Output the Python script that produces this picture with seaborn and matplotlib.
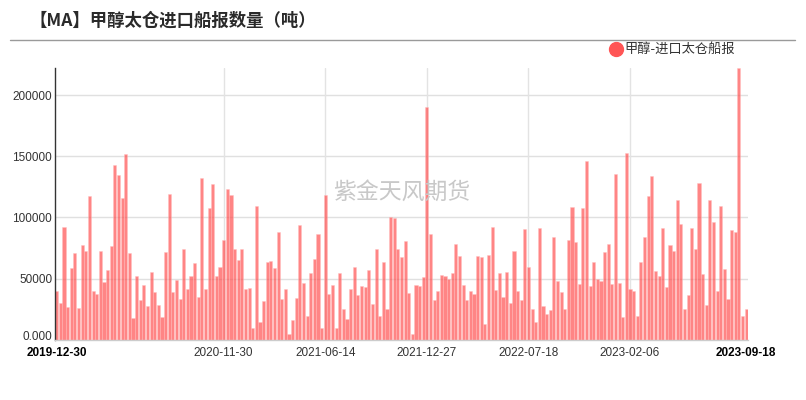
import numpy as np
import pandas as pd
from matplotlib import pyplot as plt
from matplotlib.lines import Line2D
import seaborn as sns

# weekly ship-report volume (tons)
ship_tons = [
    40000, 29700, 91800, 26700, 58600, 71100, 25600, 77700, 72200, 117200,
    39800, 37600, 72800, 46900, 56700, 76800, 143300, 134900, 115800, 152300,
    71100, 17700, 52300, 32700, 45000, 27500, 55000, 38700, 28600, 18500,
    71900, 119400, 38700, 48500, 33500, 74400, 41400, 52300, 62400, 34600,
    132400, 41400, 107900, 127500, 52300, 59400, 81200, 123400, 118500, 74400,
    65400, 74400, 41400, 42500, 9500, 109500, 14400, 31600, 63500, 64000,
    58300, 88300, 33500, 41400, 4400, 15800, 33800, 93500, 46600, 19600,
    54800, 65700, 86700, 9500, 118500, 37600, 44400, 9500, 54800, 24800,
    16600, 41700, 59400, 36500, 43600, 43100, 56700, 29400, 74400, 19600,
    63500, 25100, 100300, 99500, 74400, 67600, 80400, 37900, 4400, 44400,
    43600, 51000, 190500, 86400, 32700, 39800, 52600, 51800, 49600, 54500,
    78200, 68100, 45000, 32700, 39800, 37300, 68700, 67600, 12500, 69500,
    92600, 40600, 54800, 34600, 55000, 29700, 72500, 39500, 32700, 90700,
    59700, 24800, 14400, 91600, 27300, 20700, 24000, 83900, 47700, 38700,
    24800, 81500, 108200, 79600, 45500, 107400, 146600, 43600, 63500, 49600,
    47700, 71400, 78500, 45500, 135400, 46600, 18500, 152900, 41400, 39800,
    19600, 63500, 83900, 117400, 134300, 55900, 51800, 91600, 43100, 77700,
    72500, 114700, 94300, 24800, 36800, 91600, 74400, 128100, 53400, 28600,
    114500, 96700, 39800, 109000, 58000, 33500, 89900, 88300, 222400, 19600,
    25100,
]

tick_pos = [0, 46, 74, 102, 130, 158, 190]
tick_labels = ["2019-12-30", "2020-11-30", "2021-06-14", "2021-12-27",
               "2022-07-18", "2023-02-06", "2023-09-18"]
y_ticks = [0, 50000, 100000, 150000, 200000]
y_labels = ["0.000", "50000", "100000", "150000", "200000"]

title = "【MA】甲醇太仓进口船报数量（吨）"
series_name = "甲醇-进口太仓船报"
watermark = "紫金天风期货"

df = pd.DataFrame({"idx": np.arange(len(ship_tons)), "tons": ship_tons})

sns.set_style("white")
plt.rcParams['font.family'] = ['Liberation Sans', 'Noto Sans CJK SC', 'DejaVu Sans']
cjk = ['Noto Sans CJK SC', 'DejaVu Sans']

fig = plt.figure(figsize=(8.06, 4.0), dpi=100)
ax = fig.add_axes([0.0682, 0.151, 0.8598, 0.679])

sns.barplot(data=df, x="idx", y="tons", ax=ax, color="#ff5252", alpha=0.7,
            width=0.86, saturation=1, edgecolor="#ffbdbd", linewidth=0.4,
            zorder=2)

ax.set_xlim(-0.5, len(ship_tons) - 0.5)
ax.set_ylim(0, max(ship_tons))
ax.set_xlabel("")
ax.set_ylabel("")

ax.set_yticks(y_ticks)
ax.set_yticklabels(y_labels, fontsize=8.5, color="#333333")
ax.set_xticks(tick_pos)
ax.set_xticklabels(tick_labels, fontsize=8.5, color="#333333")
for i, lab in enumerate(ax.get_xticklabels()):
    if i == 0 or i == len(tick_pos) - 1:
        lab.set_fontweight("bold")
        lab.set_color("black")
ax.tick_params(axis="y", length=0, pad=2)
ax.tick_params(axis="x", length=0, pad=5)
# the zero label sits on the baseline
ax.get_yticklabels()[0].set_verticalalignment("baseline")

for y in y_ticks[1:]:
    ax.axhline(y, color="#e0e0e0", lw=1, zorder=1)
for x in tick_pos[1:-1]:
    ax.axvline(x, color="#e3e3e3", lw=1, zorder=1)

for s in ["top", "right"]:
    ax.spines[s].set_visible(False)
ax.spines["left"].set_color("#333333")
ax.spines["left"].set_linewidth(1)
ax.spines["bottom"].set_color("#cccccc")
ax.spines["bottom"].set_linewidth(1)

ax.text(0.5, 0.543, watermark, transform=ax.transAxes, ha="center",
        va="center", fontsize=16.5, color="#c8c8c8", family=cjk, zorder=3)

fig.text(0.037, 0.948, title, fontsize=12.5, fontweight="bold",
         color="#2a2a2a", family=cjk, va="center")
fig.add_artist(Line2D([10 / 806, 795 / 806], [0.9, 0.9],
                      color="#9a9a9a", lw=1))

fig.add_artist(Line2D([616 / 806], [1 - 49 / 400], marker="o", markersize=10,
                      color="#ff5555", lw=0))
fig.text(624 / 806, 1 - 49 / 400, series_name, fontsize=9.5,
         color="#333333", family=cjk, va="center")

fig.savefig("out.png", dpi=100)
